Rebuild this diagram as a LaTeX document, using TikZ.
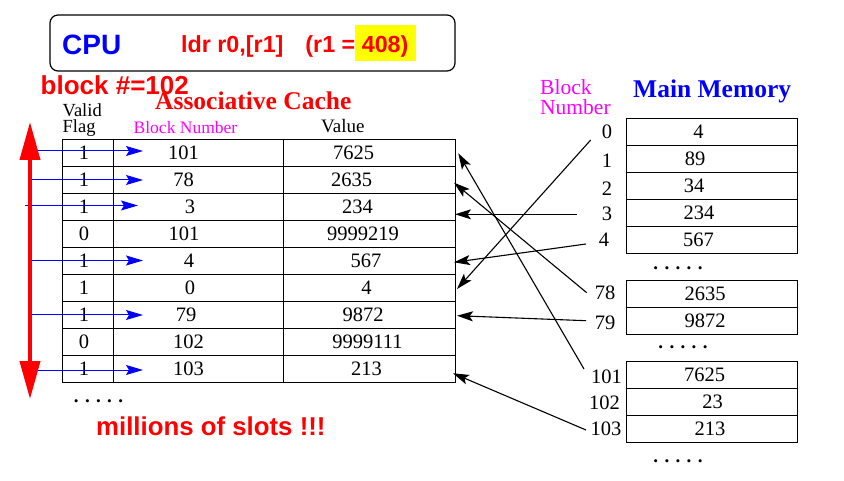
\documentclass[tikz,border=0pt]{standalone}
\usepackage{fontspec}
\setmainfont{Liberation Serif}
\setsansfont{Liberation Sans}
\usetikzlibrary{arrows.meta}
\definecolor{pRed}{RGB}{255,0,0}
\definecolor{pBlue}{RGB}{0,0,255}
\definecolor{pMag}{RGB}{255,0,255}
\definecolor{pYel}{RGB}{255,255,0}
\begin{document}
\begin{tikzpicture}[x=1pt,y=-1pt,
  txt/.style={inner sep=0pt, anchor=base west},
  num/.style={inner sep=0pt, font=\fontsize{20.5}{24}\selectfont},
  dots/.style={inner sep=0pt, font=\bfseries\fontsize{19}{22}\selectfont},
  gridline/.style={draw=black, line width=0.9pt},
  blu/.style={draw=pBlue, line width=1pt, -{Stealth[length=17pt,width=10pt,inset=3pt]}},
  blk/.style={draw=black, line width=1.1pt, -{Stealth[length=16pt,width=10pt,inset=3.5pt]}},
]
\fill[white] (0,0) rectangle (844,481);
\useasboundingbox (0,0) rectangle (844,481);

% CPU box
\node[draw, line width=1.2pt, rounded corners=8pt, minimum width=405pt, minimum height=56pt, inner sep=0pt] (cpu) at (252.5,43) {};
\node[fill=pYel, minimum width=61pt, minimum height=36pt, inner sep=0pt] (hl) at (385.5,43) {};
\node[txt, text=pBlue, font=\sffamily\bfseries\fontsize{28}{30}\selectfont] (cpul) at (62,55) {CPU};
\node[txt, text=pRed, font=\sffamily\bfseries\fontsize{23.3}{26}\selectfont] (instr) at (181,53) {ldr r0,[r1]\hspace{22pt}(r1 = 408)};

% headings
\node[txt, text=pRed, font=\sffamily\bfseries\fontsize{26}{28}\selectfont] (blk) at (40.5,95) {block \#=102};
\node[txt, text=pRed, font=\bfseries\fontsize{25.5}{27}\selectfont] (assoc) at (155,110) {Associative Cache};
\node[txt, align=left, font=\fontsize{18.5}{16}\selectfont] (validflag) at (62.5,133) {Valid\\Flag};
\node[txt, text=pMag, font=\fontsize{17.5}{20}\selectfont] (bn) at (133.5,134) {Block Number};
\node[txt, font=\fontsize{19}{20}\selectfont] (valh) at (321,133) {Value};

% cache grid
\draw[gridline] (62,139) rectangle (455,382);
\draw[gridline] (113,139) -- (113,382);
\draw[gridline] (283.5,139) -- (283.5,382);
\foreach \i in {1,...,8} \draw[gridline] (62,{139+27*\i}) -- (455,{139+27*\i});

% cache rows
\foreach \i/\f/\b/\bx/\v/\vx in {1/1/101/183.5/7625/353.5, 2/1/78/183.5/2635/351.5, 3/1/3/190/234/357.5,
  4/0/101/184/9999219/363, 5/1/4/189/567/366, 6/1/0/190/4/366.5, 7/1/79/186/9872/363,
  8/0/102/188.5/9999111/367.5, 9/1/103/188.5/213/366.5}{
  \node[num] (cf\i) at (84,{152.5+27*(\i-1)}) {\f};
  \node[num] (cb\i) at (\bx,{152.5+27*(\i-1)}) {\b};
  \node[num] (cv\i) at (\vx,{152.5+27*(\i-1)}) {\v};
}

% blue arrows
\foreach \i/\y/\sx/\ex in {1/151/30/143, 2/180/30/143, 3/205.5/25/138, 5/260.5/31/143, 7/315/31/143, 9/370/30/143}{
  \coordinate (bs\i) at (\sx,\y);
  \coordinate (be\i) at (\ex,\y);
  \draw[blu] (bs\i) -- (be\i);
}

% red double arrow
\coordinate (rt) at (30,122);
\coordinate (rb) at (30,399);
\draw[pRed, line width=4pt, {Triangle[length=38pt,width=20pt]}-{Triangle[length=38pt,width=20pt]}] (rt) -- (rb);

\node[dots] (cdots) at (98.5,401) {. . . . .};
\node[txt, text=pRed, font=\sffamily\bfseries\fontsize{25.8}{28}\selectfont] (mil) at (96,435.7) {millions of slots !!!};

% main memory headings
\node[txt, text=pMag, font=\fontsize{21.5}{24}\selectfont] (mb1) at (540,95) {Block};
\node[txt, text=pMag, font=\fontsize{21.5}{24}\selectfont] (mb2) at (540,115) {Number};
\node[txt, text=pBlue, font=\bfseries\fontsize{25.5}{28}\selectfont] (mm) at (633,98) {Main Memory};

% memory grids
\draw[gridline] (626,118.3) rectangle (797.5,253.3);
\foreach \i in {1,...,4} \draw[gridline] (626,{118.3+27*\i}) -- (797.5,{118.3+27*\i});
\draw[gridline] (626,280.7) rectangle (797.5,334.3);
\draw[gridline] (626,307.5) -- (797.5,307.5);
\draw[gridline] (626,361) rectangle (797.5,442.3);
\draw[gridline] (626,388.1) -- (797.5,388.1);
\draw[gridline] (626,415.2) -- (797.5,415.2);

% memory rows
\foreach \n/\lx/\ly/\v/\vx/\vy in {0/607/132/4/698.5/132, 1/607/160.5/89/695/159, 2/607/188.5/34/694/186,
  3/607/214/234/699/213, 4/604/240/567/698.5/240, 78/605/293/2635/705/294, 79/605/323/9872/705/321,
  101/606.5/376.7/7625/704.5/375, 102/604.5/402.5/23/712.5/402, 103/606/428.7/213/710/429}{
  \node[num] (ml\n) at (\lx,\ly) {\n};
  \node[num] (mv\n) at (\vx,\vy) {\v};
}
\node[dots] (md1) at (678,268) {. . . . .};
\node[dots] (md2) at (683,347) {. . . . .};
\node[dots] (md3) at (678,461) {. . . . .};

% black arrows memory -> cache
\coordinate (s0) at (590.7,140);   \coordinate (t0) at (457,289);
\coordinate (s3) at (576.7,214.3); \coordinate (t3) at (455,214.3);
\coordinate (s4) at (586,244);     \coordinate (t4) at (454,262.3);
\coordinate (s78) at (586.7,292.7); \coordinate (t78) at (454,182.7);
\coordinate (s101) at (584,369);   \coordinate (t101) at (458.3,153.3);
\coordinate (s79) at (586,320.7);  \coordinate (t79) at (457,315.7);
\coordinate (s103) at (586,430);   \coordinate (t103) at (453,373.3);
\foreach \k in {0,3,4,78,101,79,103} \draw[blk] (s\k) -- (t\k);
\end{tikzpicture}
\end{document}
